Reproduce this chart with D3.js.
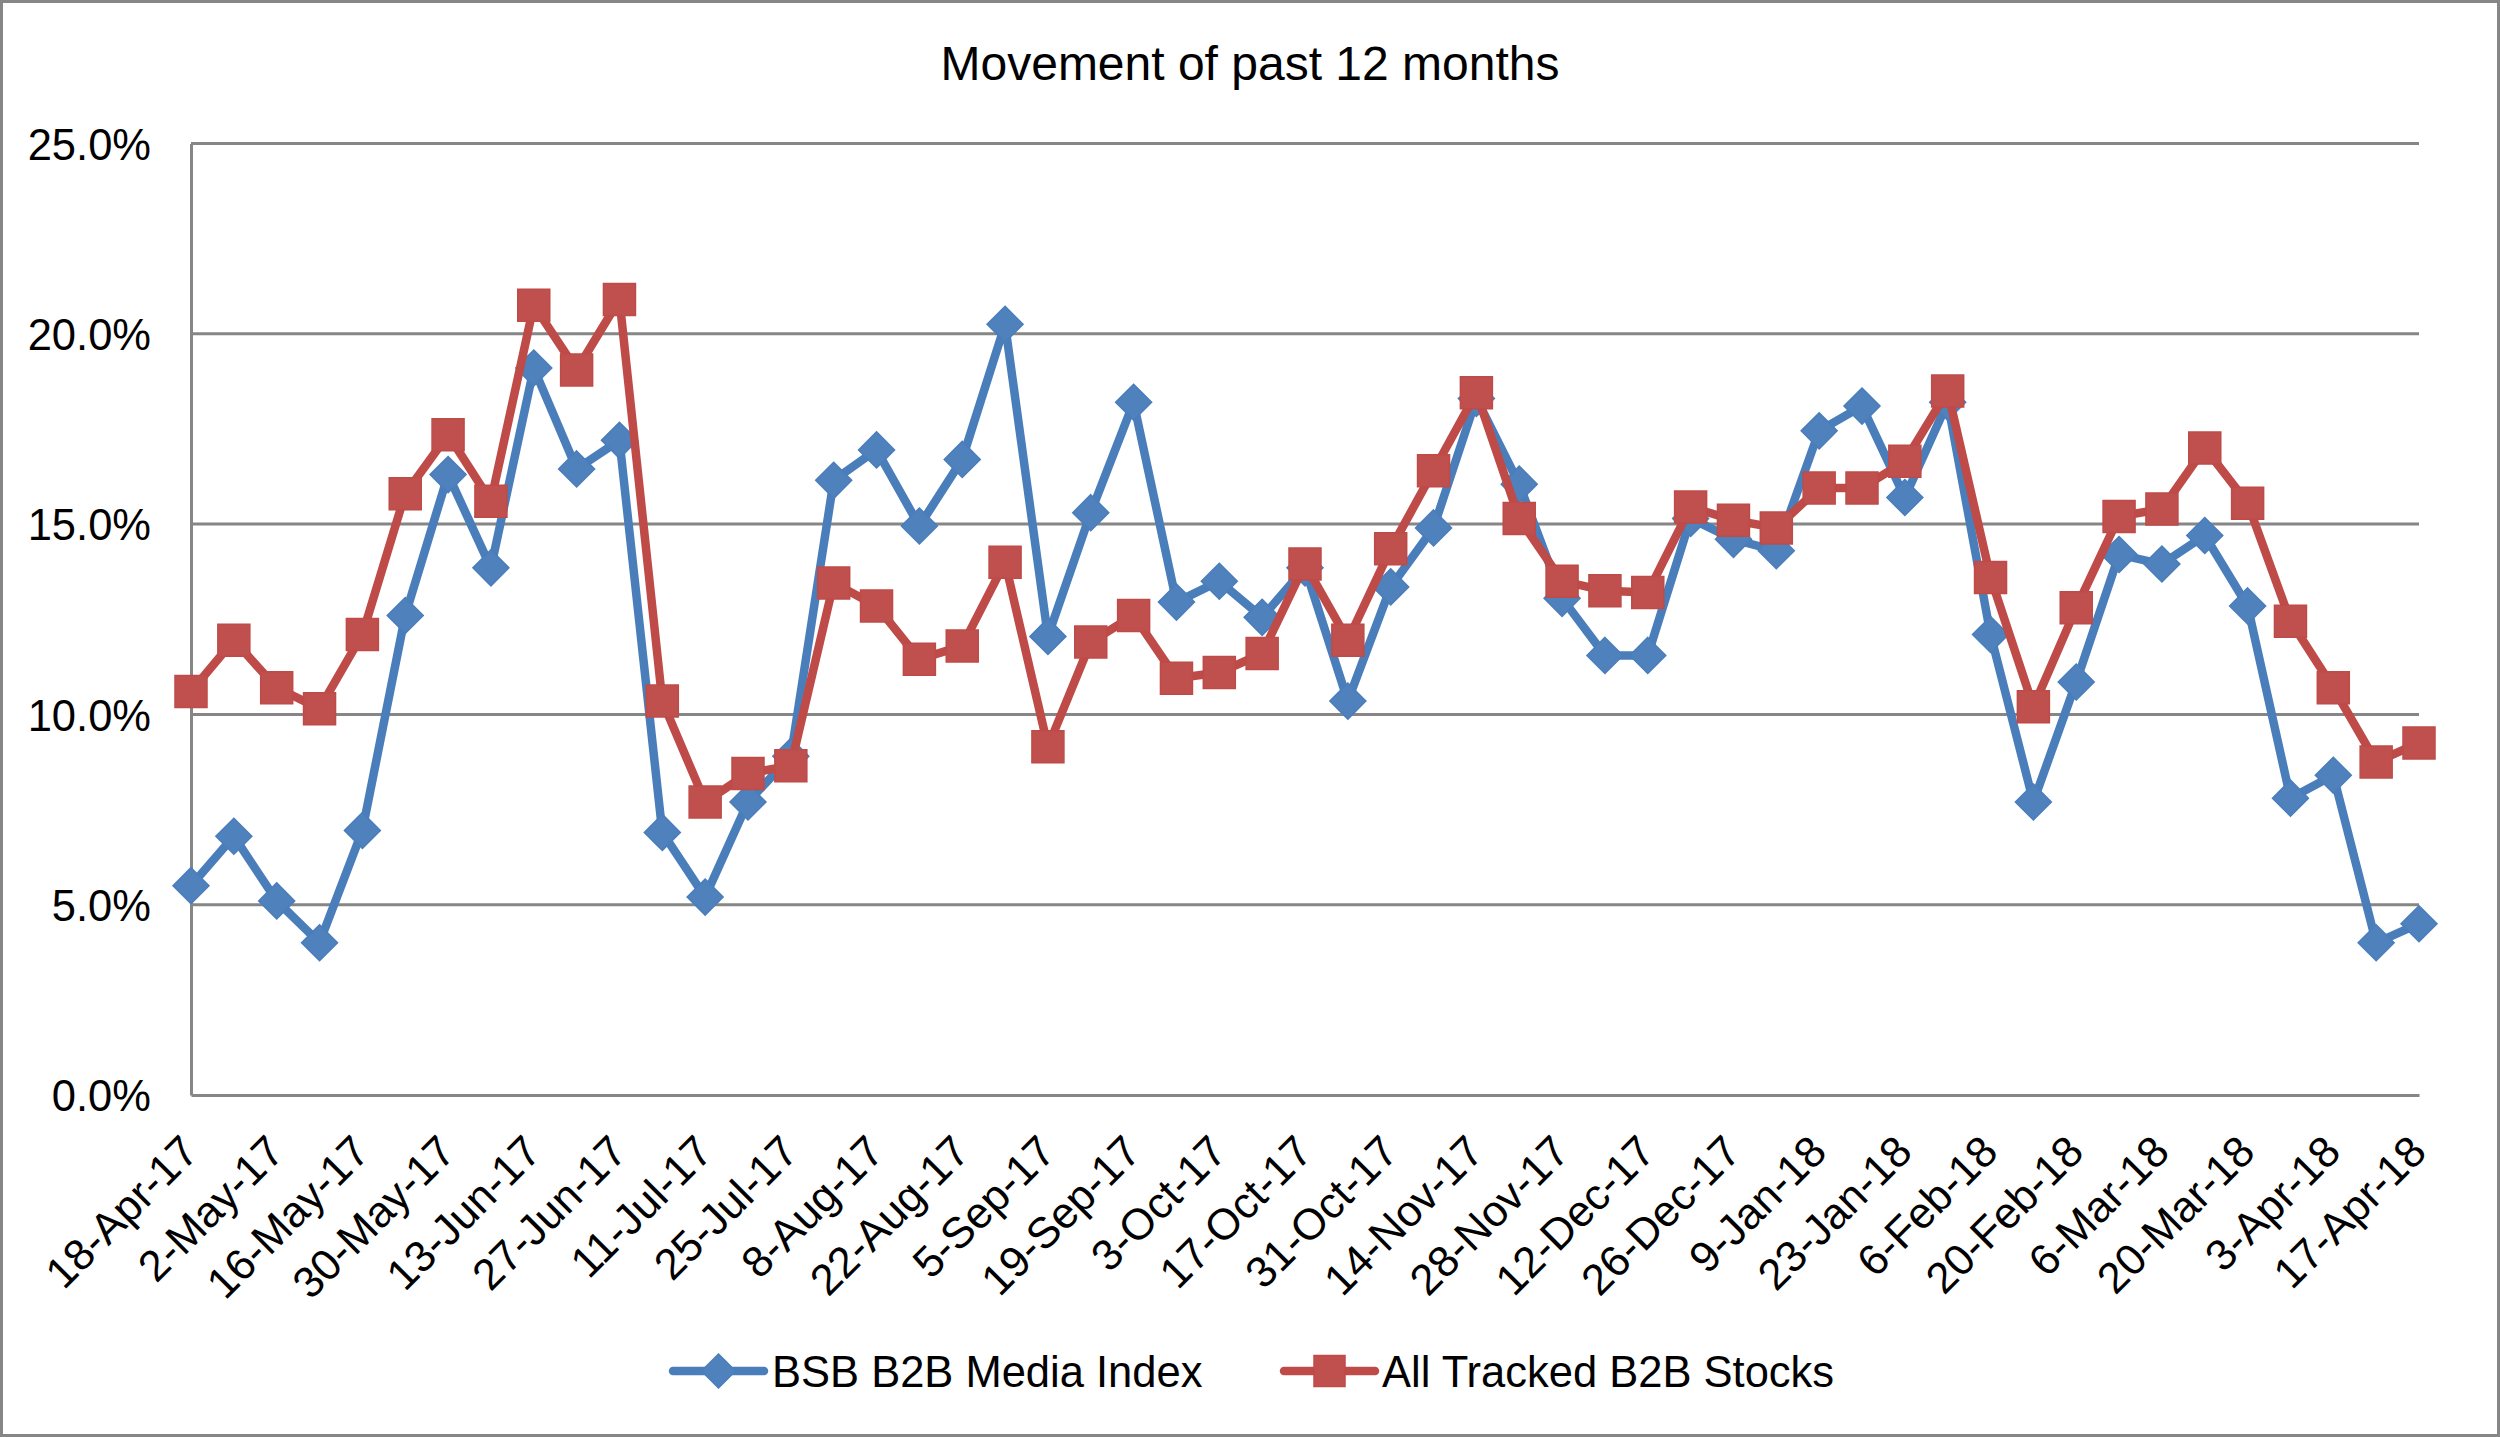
<!DOCTYPE html>
<html>
<head>
<meta charset="utf-8">
<script src="https://cdn.jsdelivr.net/npm/d3@7"></script>
<style>
  html, body { margin: 0; padding: 0; background: #fff; }
  svg { display: block; font-family: "Liberation Sans", Arial, sans-serif; }
</style>
</head>
<body>
<svg id="chart" width="2500" height="1437"></svg>
<script>
const title = "Movement of past 12 months";

const categories = [
  "18-Apr-17","25-Apr-17","2-May-17","9-May-17","16-May-17","23-May-17","30-May-17",
  "6-Jun-17","13-Jun-17","20-Jun-17","27-Jun-17","4-Jul-17","11-Jul-17","18-Jul-17",
  "25-Jul-17","1-Aug-17","8-Aug-17","15-Aug-17","22-Aug-17","29-Aug-17","5-Sep-17",
  "12-Sep-17","19-Sep-17","26-Sep-17","3-Oct-17","10-Oct-17","17-Oct-17","24-Oct-17",
  "31-Oct-17","7-Nov-17","14-Nov-17","21-Nov-17","28-Nov-17","5-Dec-17","12-Dec-17",
  "19-Dec-17","26-Dec-17","2-Jan-18","9-Jan-18","16-Jan-18","23-Jan-18","30-Jan-18",
  "6-Feb-18","13-Feb-18","20-Feb-18","27-Feb-18","6-Mar-18","13-Mar-18","20-Mar-18",
  "27-Mar-18","3-Apr-18","10-Apr-18","17-Apr-18"
];

const tickLabels = categories.filter((d, i) => i % 2 === 0);

const seriesNames = ["BSB B2B Media Index", "All Tracked B2B Stocks"];

const bsbIndex = [
  5.5, 6.8, 5.1, 4.0, 6.95, 12.6, 16.3, 13.85, 19.1, 16.45, 17.2, 6.9, 5.2, 7.7,
  8.9, 16.15, 16.95, 14.95, 16.7, 20.25, 12.05, 15.3, 18.2, 12.95, 13.5, 12.55,
  13.85, 10.35, 13.35, 14.9, 18.3, 16.05, 13.05, 11.55, 11.55, 15.15, 14.6, 14.3,
  17.45, 18.1, 15.7, 18.2, 12.1, 7.7, 10.85, 14.2, 13.95, 14.7, 12.85, 7.8, 8.4,
  4.0, 4.5
];

const allTracked = [
  10.6, 11.95, 10.7, 10.15, 12.1, 15.8, 17.35, 15.6, 20.75, 19.05, 20.9, 10.35,
  7.7, 8.45, 8.65, 13.45, 12.85, 11.45, 11.8, 14.0, 9.15, 11.9, 12.6, 10.95, 11.1,
  11.6, 13.95, 11.95, 14.35, 16.4, 18.45, 15.15, 13.5, 13.25, 13.2, 15.45, 15.1,
  14.9, 15.95, 15.95, 16.65, 18.5, 13.6, 10.2, 12.8, 15.2, 15.4, 17.0, 15.55,
  12.45, 10.7, 8.75, 9.25
];

const yTicks = [0, 5, 10, 15, 20, 25];

// ---- layout ----
const W = 2500, H = 1437;
const plot = { left: 191, right: 2419, top: 143.5, bottom: 1095 };
const gridColor = "#868686";
const blueLine = "#4A7EBB", blueFill = "#4F81BD";
const redLine = "#BE4B48", redFill = "#C0504D";
const fs = 43.5;

const svg = d3.select("#chart");

svg.append("rect")
  .attr("x", 1.5).attr("y", 1.5).attr("width", W - 3).attr("height", H - 3)
  .attr("fill", "#fff").attr("stroke", gridColor).attr("stroke-width", 3);

const x = d3.scalePoint().domain(categories).range([plot.left, plot.right]);
const y = d3.scaleLinear().domain([0, 25]).range([plot.bottom, plot.top]);

// title
svg.append("text")
  .attr("x", 1250).attr("y", 80)
  .attr("text-anchor", "middle")
  .attr("font-size", 48)
  .attr("fill", "#000")
  .text(title);

// gridlines
svg.append("g").selectAll("line")
  .data(yTicks.filter(d => d > 0))
  .join("line")
  .attr("x1", plot.left).attr("x2", plot.right)
  .attr("y1", d => y(d)).attr("y2", d => y(d))
  .attr("stroke", gridColor).attr("stroke-width", 3);

// y axis
const yAxis = svg.append("g")
  .attr("transform", `translate(${plot.left},0)`)
  .call(d3.axisLeft(y).tickValues(yTicks).tickSize(0).tickPadding(40)
    .tickFormat(d => d3.format(".1f")(d) + "%"));
yAxis.select(".domain").attr("stroke", gridColor).attr("stroke-width", 3);
yAxis.selectAll("text")
  .attr("font-size", fs)
  .attr("font-family", '"Liberation Sans", Arial, sans-serif')
  .attr("fill", "#000")
  .attr("dy", "0.36em");

// x axis
const xAxis = svg.append("g")
  .attr("transform", `translate(0,${plot.bottom})`)
  .call(d3.axisBottom(x).tickValues(tickLabels).tickSize(0).tickPadding(0));
xAxis.select(".domain").attr("stroke", gridColor).attr("stroke-width", 3);
xAxis.selectAll("text")
  .attr("font-size", fs)
  .attr("font-family", '"Liberation Sans", Arial, sans-serif')
  .attr("fill", "#000")
  .attr("text-anchor", "end")
  .attr("y", 0)
  .attr("dy", "0.36em")
  .attr("transform", "translate(-2,48) rotate(-45)");

// series
const line = d3.line()
  .x((d, i) => x(categories[i]))
  .y(d => y(d));

const diamondPath = (cx, cy, r) => `M${cx},${cy - r}L${cx + r},${cy}L${cx},${cy + r}L${cx - r},${cy}Z`;
const squarePath = (cx, cy, s) => `M${cx - s / 2},${cy - s / 2}h${s}v${s}h${-s}Z`;

function drawSeries(values, lc, fc, shape) {
  const g = svg.append("g");
  g.append("path")
    .attr("d", line(values))
    .attr("fill", "none")
    .attr("stroke", lc)
    .attr("stroke-width", 8.5)
    .attr("stroke-linejoin", "round")
    .attr("stroke-linecap", "round");
  g.selectAll("path.m")
    .data(values)
    .join("path")
    .attr("class", "m")
    .attr("d", (d, i) => shape === "diamond"
      ? diamondPath(x(categories[i]), y(d), 18)
      : squarePath(x(categories[i]), y(d), 32))
    .attr("fill", fc)
    .attr("stroke", lc)
    .attr("stroke-width", 1.5);
}

drawSeries(bsbIndex, blueLine, blueFill, "diamond");
drawSeries(allTracked, redLine, redFill, "square");

// legend
const legendY = 1371;
const legendItems = [
  { name: seriesNames[0], lc: blueLine, fc: blueFill, shape: "diamond", x0: 673, x1: 764, tx: 772 },
  { name: seriesNames[1], lc: redLine, fc: redFill, shape: "square", x0: 1284, x1: 1375, tx: 1382 }
];
const lg = svg.append("g");
legendItems.forEach(it => {
  lg.append("line")
    .attr("x1", it.x0).attr("x2", it.x1)
    .attr("y1", legendY).attr("y2", legendY)
    .attr("stroke", it.lc).attr("stroke-width", 8.5)
    .attr("stroke-linecap", "round");
  const cx = (it.x0 + it.x1) / 2;
  lg.append("path")
    .attr("d", it.shape === "diamond" ? diamondPath(cx, legendY, 17) : squarePath(cx, legendY, 31))
    .attr("fill", it.fc).attr("stroke", it.lc).attr("stroke-width", 1.5);
  lg.append("text")
    .attr("x", it.tx).attr("y", legendY)
    .attr("dy", "0.36em")
    .attr("font-size", fs)
    .attr("fill", "#000")
    .text(it.name);
});
</script>
</body>
</html>
